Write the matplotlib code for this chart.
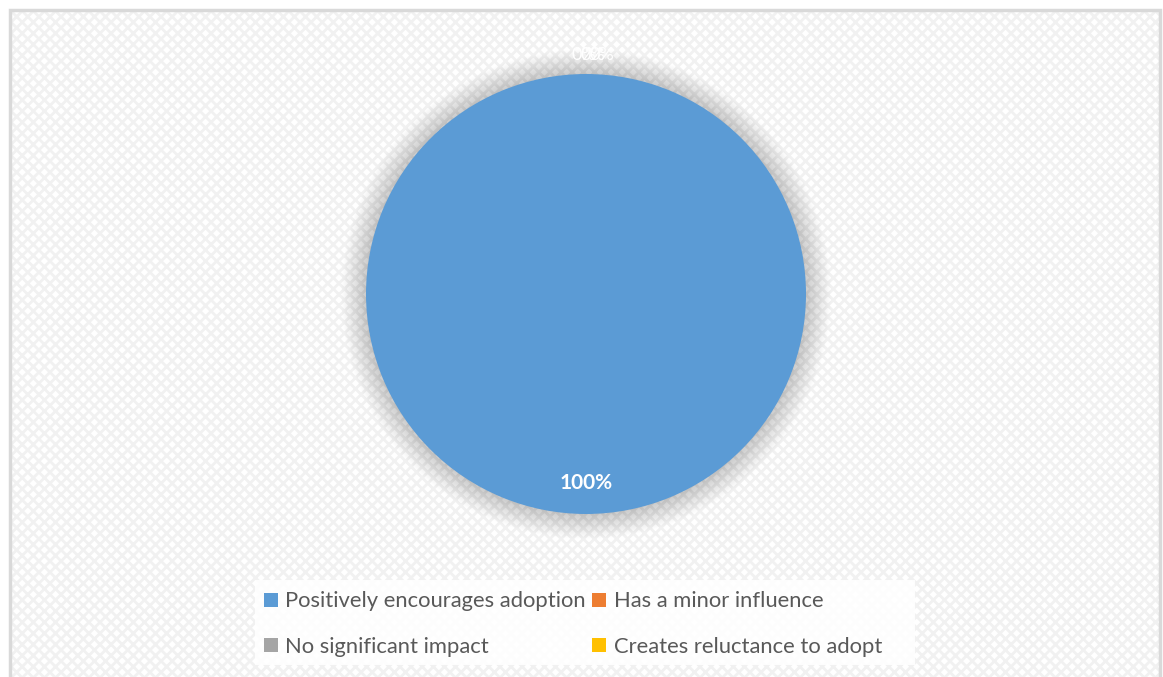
import matplotlib.pyplot as plt
from matplotlib.patches import Rectangle, Circle

labels = ["Positively encourages adoption", "Has a minor influence",
          "No significant impact", "Creates reluctance to adopt"]
shares = [100, 0, 0, 0]
colors = ["#5b9bd5", "#ed7d31", "#a5a5a5", "#ffc000"]

plt.rcParams['font.family'] = ['Lato', 'DejaVu Sans']
plt.rcParams['hatch.linewidth'] = 2.0

W, H = 1163, 677
fig = plt.figure(figsize=(W / 100, H / 100), dpi=100)

# chart area: light border with a faint woven texture
bg = Rectangle((10 / W, 0), 1150 / W, (H - 10) / H, transform=fig.transFigure,
               facecolor="white", edgecolor="#f1f1f1", hatch="xxx",
               linewidth=0, zorder=-3)
fig.patches.append(bg)
frame = Rectangle((10 / W, -0.01), 1150 / W, (H - 10) / H + 0.01,
                  transform=fig.transFigure, facecolor="none",
                  edgecolor="#d9d9d9", linewidth=2.5, zorder=-2)
fig.patches.append(frame)

# legend panel
panel = Rectangle((255 / W, (H - 665) / H), 660 / W, 85 / H,
                  transform=fig.transFigure, facecolor="white",
                  edgecolor="none", alpha=0.9, zorder=-1)
fig.patches.append(panel)

cx, cy, r = 586, H - 294, 220
half = 1.25 * r
ax = fig.add_axes([(cx - half) / W, (cy - half) / H, 2 * half / W, 2 * half / H])
ax.set_zorder(1)
ax.patch.set_visible(False)
ax.set_aspect("equal")
ax.axis("off")

# soft shadow round the pie
steps = 25
for i in range(steps):
    rad = 1.0 + 0.0045 * (steps - i)
    ax.add_patch(Circle((0.0, 0.0), rad, color="black", alpha=0.006,
                        linewidth=0, zorder=1))

wedges, texts, autotexts = ax.pie(
    shares, colors=colors, startangle=90, counterclock=False,
    radius=1.0, autopct="%1.0f%%", pctdistance=0.86,
    wedgeprops=dict(linewidth=0), frame=False,
    textprops=dict(color="white", fontsize=15, fontweight="bold"))
for w in wedges:
    w.set_zorder(2)
for k, (t, v) in enumerate(zip(autotexts, shares)):
    t.set_zorder(3)
    if v == 0:
        # zero slices all sit at the top, labels stack just outside the rim
        t.set_position((0.04 * (k - 1) - 0.01, 1.085))
        t.set_fontweight("normal")
        t.set_fontsize(13)
ax.set_xlim(-1.25, 1.25)
ax.set_ylim(-1.25, 1.25)

order = [0, 2, 1, 3]
handles = [Rectangle((0, 0), 1, 1, facecolor=colors[i]) for i in order]
leg = fig.legend(handles, [labels[i] for i in order], ncol=2,
                 loc="center", bbox_to_anchor=(573 / W, (H - 624) / H),
                 frameon=False, fontsize=15.8, handlelength=0.62,
                 handleheight=0.62, handletextpad=0.35, columnspacing=0.3,
                 labelspacing=1.15, labelcolor="#595959")

fig.savefig("out.png", dpi=100)
